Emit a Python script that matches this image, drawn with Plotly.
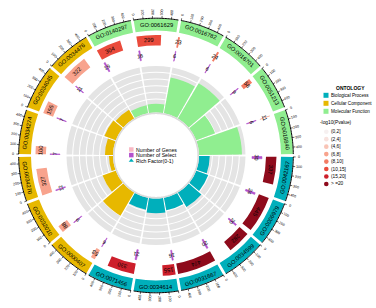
import numpy as np
import plotly.graph_objects as go

# ---------------- data ----------------
go_ids = ["GO:0140297", "GO:0061629", "GO:0016782", "GO:0016701", "GO:0051213", "GO:0016840",
          "GO:0042167", "GO:0006979", "GO:0034599", "GO:0031667", "GO:0034614", "GO:0071456",
          "GO:0000407", "GO:0032010", "GO:0034270", "GO:0034274", "GO:0034045", "GO:0034476"]
ontology = ["MF"] * 6 + ["BP"] * 6 + ["CC"] * 6
gene_num = [304, 299, 23, 24, 58, 11, 337, 445, 282, 474, 155, 330, 53, 88, 327, 100, 155, 322]
select_num = [19, 16, 6, 6, 9, 6, 30, 24, 20, 20, 16, 21, 6, 9, 12, 7, 7, 11]
neg_log10_p = [11.2, 10.8, 9.1, 9.0, 9.4, 7.2, 32.0, 28.0, 24.0, 38.0, 17.5, 16.4,
               6.8, 7.6, 7.0, 6.6, 6.9, 6.7]
rich_factor = [0.12, 0.13, 0.54, 0.61, 0.30, 0.64, 0.16, 0.19, 0.25, 0.19, 0.22, 0.18,
               0.40, 0.21, 0.06, 0.12, 0.18, 0.15]
tick_values = [0, 100, 200, 300, 400]
rich_max = 0.7
rich_grid = [0.0, 0.1, 0.2, 0.3, 0.4, 0.5, 0.6]

onto_names = {"BP": "Biological Process", "CC": "Cellular Component", "MF": "Molecular Function"}
onto_colors = {"BP": "#00AFBB", "CC": "#E7B800", "MF": "#90EE90"}
pv_labels = ["(0,2]", "(2,4]", "(4,6]", "(6,8]", "(8,10]", "(10,15]", "(15,20]", "> =20"]
pv_edges = [0, 2, 4, 6, 8, 10, 15, 20]
pv_colors = ["#F6F0F0", "#F8E2DE", "#F9C4B6", "#F8A38D", "#F37B63", "#EA4B3C", "#CD1F2B", "#8E0B1C"]

# ---------------- geometry ----------------
W_PX, H_PX = 376, 308
CX, CY, R_OUT = 156.0, 155.5, 150.0
n = len(go_ids)
step = 360.0 / n
start_deg = -30.0
gap = 1.2
span = step - gap
centers = [start_deg + step * (i + 0.5) for i in range(n)]
starts = [c - span / 2 for c in centers]
xmax = max(gene_num)

R_RICH0, R_RICH1 = 43.0, 90.0
R_SEL0, R_SEL1 = 96.0, 106.0
R_GEN0, R_GEN1 = 110.0, 120.5
R_LAB0, R_LAB1 = 125.0, 137.0
FONT = "Liberation Sans, Arial, sans-serif"


def xy(r, th):
    t = np.deg2rad(th)
    return CX + r * np.sin(t), CY - r * np.cos(t)


def norm(a):
    return (a + 180) % 360 - 180


def pv_color(v):
    k = 0
    for j, e in enumerate(pv_edges):
        if v > e:
            k = j
    return pv_colors[k]


fig = go.Figure()

# rich factor grey background bands
band = (R_RICH1 - R_RICH0) / len(rich_grid)
bt, bb, bw = [], [], []
for i in range(n):
    for g in rich_grid:
        bt.append(centers[i])
        bb.append(R_RICH0 + g / rich_max * (R_RICH1 - R_RICH0) + 0.5)
        bw.append(span)
fig.add_trace(go.Barpolar(theta=bt, base=bb, r=[band - 1.0] * len(bt), width=bw,
                          marker=dict(color="#E4E4E4", line=dict(width=0)), hoverinfo="skip"))
# inner ring
ring_t = np.linspace(0, 360, 361)
fig.add_trace(go.Scatterpolar(theta=ring_t, r=[R_RICH0 - 0.8] * len(ring_t), mode="lines",
                              line=dict(color="#DADADA", width=1.6), hoverinfo="skip"))
# rich factor bars
fig.add_trace(go.Barpolar(theta=centers, base=[R_RICH0] * n,
                          r=[v / rich_max * (R_RICH1 - R_RICH0) for v in rich_factor],
                          width=[span] * n,
                          marker=dict(color=[onto_colors[o] for o in ontology], line=dict(width=0)),
                          hoverinfo="skip"))
# select bars
fig.add_trace(go.Barpolar(theta=[s + v / xmax * span / 2 for s, v in zip(starts, select_num)],
                          base=[R_SEL0] * n, r=[R_SEL1 - R_SEL0] * n,
                          width=[v / xmax * span for v in select_num],
                          marker=dict(color="#B452CD", line=dict(color="#B452CD", width=0.6)),
                          hoverinfo="skip"))
# gene bars
fig.add_trace(go.Barpolar(theta=[s + v / xmax * span / 2 for s, v in zip(starts, gene_num)],
                          base=[R_GEN0] * n, r=[R_GEN1 - R_GEN0] * n,
                          width=[v / xmax * span for v in gene_num],
                          marker=dict(color=[pv_color(p) for p in neg_log10_p], line=dict(width=0)),
                          hoverinfo="skip"))
# label boxes
fig.add_trace(go.Barpolar(theta=centers, base=[R_LAB0] * n, r=[R_LAB1 - R_LAB0] * n,
                          width=[span] * n,
                          marker=dict(color=[onto_colors[o] for o in ontology], line=dict(width=0)),
                          hoverinfo="skip"))
# axis arcs and ticks
at, ar = [], []
tt, tr = [], []
for i in range(n):
    arc = np.linspace(starts[i], starts[i] + span, 30)
    at += list(arc) + [None]
    ar += [R_LAB1 + 0.3] * 30 + [None]
    for tv in tick_values:
        a = starts[i] + tv / xmax * span
        tt += [a, a, None]
        tr += [R_LAB1, R_LAB1 + 2.6, None]
fig.add_trace(go.Scatterpolar(theta=at, r=ar, mode="lines", line=dict(color="black", width=1.0),
                              hoverinfo="skip", connectgaps=False))
fig.add_trace(go.Scatterpolar(theta=tt, r=tr, mode="lines", line=dict(color="black", width=0.6),
                              hoverinfo="skip", connectgaps=False))

annotations = []


def add_text(x, y, text, size, angle=0, color="black", bold=False, xanchor="center"):
    annotations.append(dict(x=x, y=y, xref="x", yref="y", text=("<b>%s</b>" % text) if bold else text,
                            showarrow=False, textangle=angle, xanchor=xanchor, yanchor="middle",
                            font=dict(family=FONT, size=size, color=color), borderpad=0))


for i in range(n):
    x, y = xy((R_LAB0 + R_LAB1) / 2, centers[i])
    a = norm(centers[i])
    if a > 90 or a < -90:
        a = norm(a - 180)
    add_text(x, y, go_ids[i], 5.8, a)
    for tv in tick_values:
        th = starts[i] + tv / xmax * span
        x, y = xy(R_LAB1 + 6.3, th)
        a = norm(th - 90)
        if a > 90 or a < -90:
            a = norm(a - 180)
        add_text(x, y, str(tv), 3.6, a)
    th = starts[i] + gene_num[i] / xmax * span / 2
    x, y = xy((R_GEN0 + R_GEN1) / 2, th)
    add_text(x, y, str(gene_num[i]), 5.8, norm(th))
    th = starts[i] + select_num[i] / xmax * span / 2
    x, y = xy((R_SEL0 + R_SEL1) / 2, th)
    add_text(x, y, str(select_num[i]), 5.4, norm(th))

# ---- centre legend ----
center_items = [("Number of Genes", "square", "#F9B8C4"),
                ("Number of Select", "square", "#B452CD"),
                ("Rich Factor(0-1)", "triangle-up", "#00AFBB")]
for k, (lab, sym, col) in enumerate(center_items):
    yy = 149.5 + k * 5.6
    fig.add_trace(go.Scatter(x=[131.3], y=[yy], mode="markers", xaxis="x", yaxis="y",
                             marker=dict(symbol=sym, size=4.5, color=col, line=dict(width=0)),
                             hoverinfo="skip"))
    add_text(134.8, yy, lab, 5.2, 0, xanchor="left")

# ---- right legend ----
LX = 326.0
add_text(LX + 24.0, 87.5, "ONTOLOGY", 5.0, 0, bold=True)
for k, key in enumerate(["BP", "CC", "MF"]):
    yy = 95.3 + k * 8.0
    fig.add_trace(go.Scatter(x=[LX], y=[yy], mode="markers", xaxis="x", yaxis="y",
                             marker=dict(symbol="square", size=5, color=onto_colors[key], line=dict(width=0)),
                             hoverinfo="skip"))
    add_text(LX + 3.6, yy, onto_names[key], 4.6, 0, xanchor="left")
add_text(LX - 7.0, 122.7, "-log10(Pvalue)", 4.8, 0, xanchor="left")
for k, lab in enumerate(pv_labels):
    yy = 131.7 + k * 7.47
    fig.add_trace(go.Scatter(x=[LX + 0.3], y=[yy], mode="markers", xaxis="x", yaxis="y",
                             marker=dict(symbol="circle", size=4.6, color=pv_colors[k], line=dict(width=0)),
                             hoverinfo="skip"))
    add_text(LX + 3.6, yy, lab, 4.8, 0, xanchor="left")

fig.update_layout(
    width=W_PX, height=H_PX, margin=dict(l=0, r=0, t=0, b=0),
    paper_bgcolor="white", plot_bgcolor="rgba(0,0,0,0)", showlegend=False,
    polar=dict(domain=dict(x=[(CX - R_OUT) / W_PX, (CX + R_OUT) / W_PX],
                           y=[1 - (CY + R_OUT) / H_PX, 1 - (CY - R_OUT) / H_PX]),
               bgcolor="rgba(0,0,0,0)", barmode="overlay",
               radialaxis=dict(range=[0, R_OUT], visible=False),
               angularaxis=dict(rotation=90, direction="clockwise", visible=False)),
    xaxis=dict(range=[0, W_PX], domain=[0, 1], visible=False),
    yaxis=dict(range=[H_PX, 0], domain=[0, 1], visible=False),
    annotations=annotations,
)
fig.write_html("out.html", config={"displayModeBar": False, "staticPlot": True},
               post_script="document.body.style.margin='0px';document.body.style.padding='0px';")
